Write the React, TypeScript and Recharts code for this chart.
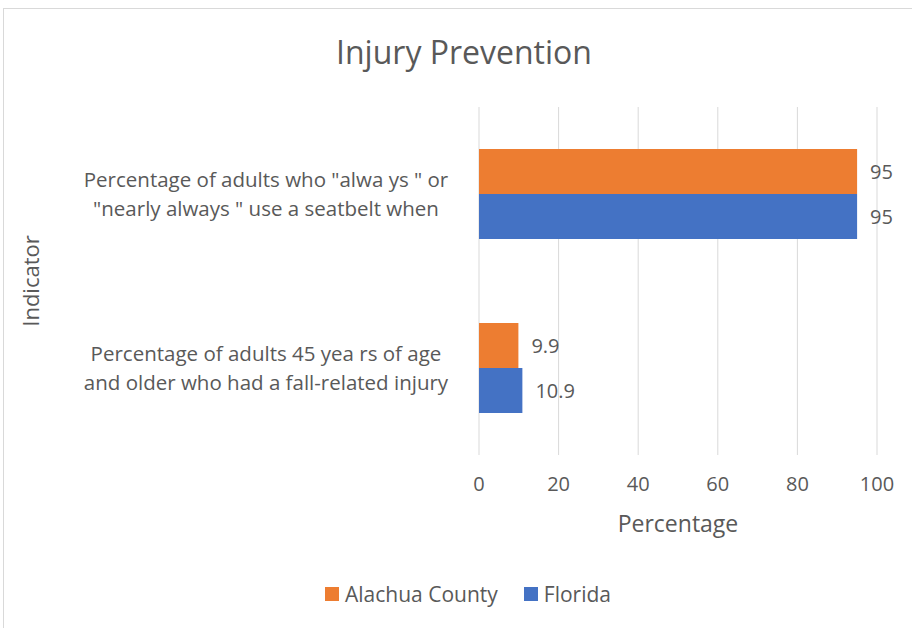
import { BarChart, Bar, XAxis, YAxis, CartesianGrid, LabelList, Label } from 'recharts'

const categoryLines = [
  ['Percentage of adults who "alwa ys " or', '"nearly always " use a seatbelt when'],
  ['Percentage of adults 45 yea rs of age', 'and older who had a fall-related injury'],
]
const alachuaCounty = [95, 9.9]
const florida = [95, 10.9]
const xTicks = [0, 20, 40, 60, 80, 100]
const seriesNames = ['Alachua County', 'Florida']
const seriesColors = ['#ED7D31', '#4472C4']

const FONT = '"Open Sans", sans-serif'
const TEXT = '#595959'

const data = categoryLines.map((lines, i) => ({
  name: lines.join(' '),
  alachua: alachuaCounty[i],
  florida: florida[i],
}))

function CategoryTick({ y, payload }: any) {
  const lines = categoryLines.find((l) => l.join(' ') === payload.value) ?? [payload.value]
  const cx = 266
  return (
    <text x={cx} y={y - 7} textAnchor="middle" fill={TEXT} fontSize={20.5} fontFamily={FONT}>
      {lines.map((line, i) => (
        <tspan key={i} x={cx} dy={i === 0 ? 0 : 29}>
          {line}
        </tspan>
      ))}
    </text>
  )
}

function IndicatorLabel({ viewBox }: any) {
  const cy = viewBox.y + viewBox.height / 2
  return (
    <text
      x={30}
      y={cy}
      transform={`rotate(-90, 30, ${cy})`}
      textAnchor="middle"
      dominantBaseline="central"
      fill={TEXT}
      fontSize={22}
      fontFamily={FONT}
    >
      Indicator
    </text>
  )
}

export default function App() {
  return (
    <div style={{ position: 'fixed', left: 0, top: 0, width: 912, height: 628, background: '#fff', overflow: 'hidden' }}>
      <div style={{ position: 'absolute', left: 3, top: 8, width: 940, height: 660, border: '1px solid #d9d9d9' }} />
      <div
        style={{
          position: 'absolute',
          left: 0,
          top: 30,
          width: 928,
          textAlign: 'center',
          fontFamily: FONT,
          fontSize: 32,
          color: TEXT,
          lineHeight: '44px',
        }}
      >
        Injury Prevention
      </div>
      <div style={{ position: 'absolute', left: 0, top: 0 }}>
        <BarChart
          width={912}
          height={628}
          data={data}
          layout="vertical"
          margin={{ top: 107, right: 35, left: 0, bottom: 0 }}
          barCategoryGap={42}
          barGap={0}
        >
          <CartesianGrid horizontal={false} stroke="#d9d9d9" />
          <XAxis
            type="number"
            domain={[0, 100]}
            ticks={xTicks}
            height={173}
            axisLine={false}
            tickLine={false}
            tickMargin={16}
            tick={{ fill: TEXT, fontSize: 20, fontFamily: FONT }}
          >
            <Label
              value="Percentage"
              position="insideBottom"
              offset={96}
              fill={TEXT}
              fontSize={23}
              fontFamily={FONT}
            />
          </XAxis>
          <YAxis
            type="category"
            dataKey="name"
            width={479}
            axisLine={false}
            tickLine={false}
            tick={<CategoryTick />}
          >
            <Label content={<IndicatorLabel />} />
          </YAxis>
          <Bar dataKey="alachua" name={seriesNames[0]} fill={seriesColors[0]} isAnimationActive={false}>
            <LabelList dataKey="alachua" position="right" offset={13} fill={TEXT} fontSize={20} fontFamily={FONT} />
          </Bar>
          <Bar dataKey="florida" name={seriesNames[1]} fill={seriesColors[1]} isAnimationActive={false}>
            <LabelList dataKey="florida" position="right" offset={13} fill={TEXT} fontSize={20} fontFamily={FONT} />
          </Bar>
        </BarChart>
      </div>
      <div
        style={{
          position: 'absolute',
          left: 0,
          top: 580,
          width: 936,
          display: 'flex',
          justifyContent: 'center',
          gap: 26,
          fontFamily: FONT,
          fontSize: 21,
          color: TEXT,
          lineHeight: '28px',
        }}
      >
        {seriesNames.map((n, i) => (
          <div key={n} style={{ display: 'flex', alignItems: 'center', gap: 6 }}>
            <span style={{ width: 14, height: 14, background: seriesColors[i], display: 'inline-block' }} />
            <span>{n}</span>
          </div>
        ))}
      </div>
    </div>
  )
}
